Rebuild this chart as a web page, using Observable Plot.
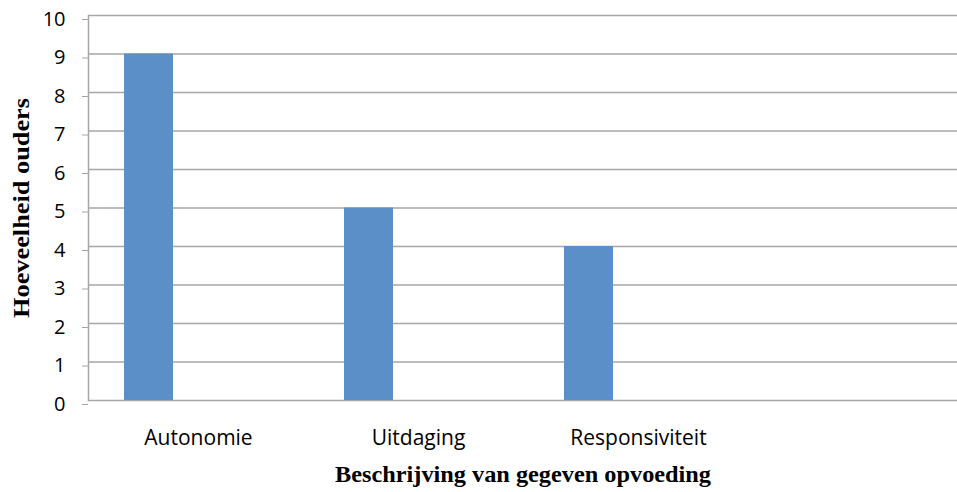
<!DOCTYPE html>
<html>
<head>
<meta charset="utf-8">
<script src="https://cdn.jsdelivr.net/npm/d3@7"></script>
<script src="https://cdn.jsdelivr.net/npm/@observablehq/plot@0.6"></script>
<style>
  html, body { margin: 0; padding: 0; background: #fff; }
  #chart svg { display: block; }
  g[aria-label="y-axis label"] text,
  g[aria-label="x-axis label"] text {
    font-family: "Liberation Serif", "DejaVu Serif", serif;
    font-weight: bold;
    font-size: 23px;
    fill: #000;
  }
  g[aria-label="y-axis tick label"] text { font-size: 20px; }
  g[aria-label="x-axis tick label"] text { font-size: 21px; }
</style>
</head>
<body>
<div id="chart"></div>
<script>
const categories = ["Autonomie", "Uitdaging", "Responsiviteit"];
const values = [9, 5, 4];
const yTicks = [0, 1, 2, 3, 4, 5, 6, 7, 8, 9, 10];
const xTitle = "Beschrijving van gegeven opvoeding";
const yTitle = "Hoeveelheid ouders";

const data = categories.map((c, i) => ({category: c, value: values[i]}));

const W = 957, H = 492;
const left = 88;
const band = 220;

const chart = Plot.plot({
  width: W,
  height: H,
  marginLeft: left,
  marginRight: 0,
  marginTop: 15,
  marginBottom: 92,
  style: {fontFamily: "'Open Sans', sans-serif", fontSize: "20px", color: "#000", background: "#fff"},
  x: {domain: categories, range: [left, left + band * categories.length], padding: 0},
  y: {domain: [0, 10]},
  marks: [
    Plot.ruleY(yTicks, {stroke: "#a6a6a6", strokeWidth: 1.5}),
    Plot.barY(data, {x: "category", y: "value", fill: "#5b8fc7", insetLeft: 36, insetRight: 135}),
    Plot.frame({anchor: "left", stroke: "#a6a6a6", strokeWidth: 1.5}),
    Plot.axisY({ticks: yTicks, tickSize: 6, tickPadding: 17, tickFormat: d => String(d), stroke: "#a6a6a6", dy: 4,
      label: yTitle, labelAnchor: "center", labelArrow: "none", labelOffset: 76}),
    Plot.axisX({tickSize: 0, tickPadding: 30,
      label: xTitle, labelAnchor: "center", labelArrow: "none", labelOffset: 81})
  ]
});
// stretch the serif titles horizontally like the original
const yl = chart.querySelector('g[aria-label="y-axis label"] text');
if (yl) { yl.setAttribute("textLength", 220); yl.setAttribute("lengthAdjust", "spacingAndGlyphs"); }
const xl = chart.querySelector('g[aria-label="x-axis label"] text');
if (xl) { xl.setAttribute("textLength", 376); xl.setAttribute("lengthAdjust", "spacingAndGlyphs"); }
document.getElementById("chart").appendChild(chart);
</script>
</body>
</html>
